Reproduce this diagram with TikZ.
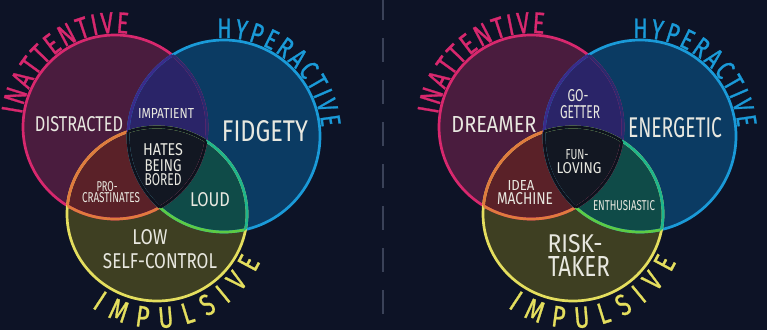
\documentclass[tikz,border=0pt]{standalone}
\usepackage{fontspec}
\usepackage{graphicx}
\usetikzlibrary{decorations.text}

\newfontfamily\hand[FakeStretch=0.72]{Fira Sans}
\newfontfamily\handarc[FakeStretch=0.76, FakeBold=0.9]{Fira Sans}
% fonts for the titles that run along the circles
\newcommand\bigarc{\handarc\fontsize{30}{30}\selectfont}
\newcommand\midarc{\handarc\fontsize{28}{28}\selectfont}
\newcommand\lowarc{\handarc\fontsize{30}{30}\selectfont}

% palette
\definecolor{bg}{HTML}{0D1326}
\definecolor{sepcol}{HTML}{3A4258}
\definecolor{pinkfill}{HTML}{4A1C3E}
\definecolor{bluefill}{HTML}{0B3B63}
\definecolor{yelfill}{HTML}{3E3F22}
\definecolor{pbfill}{HTML}{2A2468}
\definecolor{pyfill}{HTML}{5A2128}
\definecolor{byfill}{HTML}{0F4B48}
\definecolor{midfill}{HTML}{121722}
\definecolor{pinkline}{HTML}{D8286E}
\definecolor{blueline}{HTML}{1A9AD8}
\definecolor{yelline}{HTML}{E4DE5E}
\definecolor{orangeline}{HTML}{E07A3E}
\definecolor{limeline}{HTML}{5CCB45}
\definecolor{tealline}{HTML}{1EB58C}
\definecolor{purpline}{HTML}{3A2A8A}
\definecolor{indline}{HTML}{2B2A6E}
\definecolor{darkline}{HTML}{0E121C}
\definecolor{textcol}{HTML}{E8E8E0}

% the three circles of one diagram (relative to the scope origin)
\newcommand\pinkpath{(115,-127) circle[radius=92]}
\newcommand\bluepath{(224,-136) circle[radius=96]}
\newcommand\yelpath{(157,-214) ellipse[x radius=90, y radius=87]}

% a label squeezed to a given width and cap height
\newcommand\hl[3]{\resizebox{#1pt}{#2pt}{\hand #3}}

\tikzset{
  ring/.style={line width=2.7pt},
  lbl/.style={inner sep=0pt, text=textcol},
  sep/.style={draw=sepcol, line width=1.8pt, dash pattern=on 24pt off 18pt, dash phase=4pt},
  arcword/.style={decorate, decoration={text along path, text align=fit to path,
      text color=#1}},
}

% regions and outlines of one diagram
\newcommand\vennbody{%
  \fill[pinkfill] \pinkpath;
  \fill[bluefill] \bluepath;
  \fill[yelfill] \yelpath;
  \begin{scope}\clip \pinkpath; \fill[pbfill] \bluepath; \fill[pyfill] \yelpath; \end{scope}
  \begin{scope}\clip \bluepath; \fill[byfill] \yelpath; \end{scope}
  \begin{scope}\clip \pinkpath; \clip \bluepath; \fill[midfill] \yelpath; \end{scope}
  \draw[ring, pinkline] \pinkpath;
  \draw[ring, blueline] \bluepath;
  \draw[ring, yelline] \yelpath;
  \begin{scope}\clip \yelpath; \draw[ring, orangeline] \pinkpath; \draw[ring, limeline] \bluepath; \end{scope}
  \begin{scope}\clip \pinkpath; \draw[ring, orangeline] \yelpath; \draw[ring, purpline] \bluepath; \end{scope}
  \begin{scope}\clip \bluepath; \draw[ring, indline] \pinkpath; \draw[ring, tealline] \yelpath; \end{scope}
  \begin{scope}\clip \pinkpath; \clip \bluepath; \draw[ring, darkline] \yelpath; \end{scope}
  \begin{scope}\clip \pinkpath; \clip \yelpath; \draw[ring, darkline] \bluepath; \end{scope}
  \begin{scope}\clip \bluepath; \clip \yelpath; \draw[ring, darkline] \pinkpath; \end{scope}
  % circle titles written along the outlines
  \path[arcword=pinkline, decoration={text={|\bigarc|INATTENTIVE}}]
    (115,-127) ++(172.5:94) arc[start angle=172.5, end angle=82, radius=94];
  \path[arcword=blueline, decoration={text={|\midarc|HYPERACTIVE}}]
    (224,-136) ++(94:98) arc[start angle=94, end angle=5, radius=98];
  \path[arcword=yelline, decoration={text={|\lowarc|IMPULSIVE}}]
    (157,-214) ++(235:114) arc[start angle=235, end angle=335, radius=114];
}

\begin{document}
\begin{tikzpicture}[x=1pt, y=1pt]
  \useasboundingbox (0,0) rectangle (767,-330);
  \fill[bg] (0,0) rectangle (767,-330);

  % dashed divider
  \coordinate (sepTop) at (383,0);
  \coordinate (sepBot) at (383,-330);
  \draw[sep] (sepTop) -- (sepBot);

  % left diagram: traits
  \begin{scope}
    \vennbody
  \end{scope}
  \node[lbl] (lDistracted) at (79,-124)  {\hl{88}{15}{DISTRACTED}};
  \node[lbl] (lImpatient)  at (166,-113) {\hl{56}{10}{IMPATIENT}};
  \node[lbl] (lHates)      at (163,-150) {\hl{40}{12}{HATES}};
  \node[lbl] (lBeing)      at (163,-166) {\hl{37}{12}{BEING}};
  \node[lbl] (lBored)      at (163,-180) {\hl{37}{12}{BORED}};
  \node[lbl] (lFidgety)    at (265,-131) {\hl{86}{21}{FIDGETY}};
  \node[lbl] (lPro)        at (107,-187) {\hl{21}{10}{PRO-}};
  \node[lbl] (lCrast)      at (111,-198) {\hl{58}{10}{CRASTINATES}};
  \node[lbl] (lLoud)       at (210,-200) {\hl{40}{14}{LOUD}};
  \node[lbl] (lLow)        at (150,-237) {\hl{35}{15}{LOW}};
  \node[lbl] (lSelf)       at (160,-261) {\hl{114}{15}{SELF-CONTROL}};

  % right diagram: strengths
  \begin{scope}[xshift=416pt]
    \vennbody
  \end{scope}
  \node[lbl] (rDreamer)    at (494,-124) {\hl{85}{16}{DREAMER}};
  \node[lbl] (rGo)         at (578,-96)  {\hl{21}{12}{GO-}};
  \node[lbl] (rGetter)     at (580,-112) {\hl{40}{13}{GETTER}};
  \node[lbl] (rEnergetic)  at (675,-128) {\hl{94}{20}{ENERGETIC}};
  \node[lbl] (rFun)        at (577,-155) {\hl{23}{10}{FUN-}};
  \node[lbl] (rLoving)     at (579,-168) {\hl{45}{11}{LOVING}};
  \node[lbl] (rIdea)       at (521,-185) {\hl{27}{10}{IDEA}};
  \node[lbl] (rMachine)    at (525,-199) {\hl{56}{12}{MACHINE}};
  \node[lbl] (rEnthus)     at (624,-206) {\hl{62}{10}{ENTHUSIASTIC}};
  \node[lbl] (rRisk)       at (575,-244) {\hl{55}{18}{RISK-}};
  \node[lbl] (rTaker)      at (579,-266) {\hl{62}{20}{TAKER}};
\end{tikzpicture}
\end{document}
